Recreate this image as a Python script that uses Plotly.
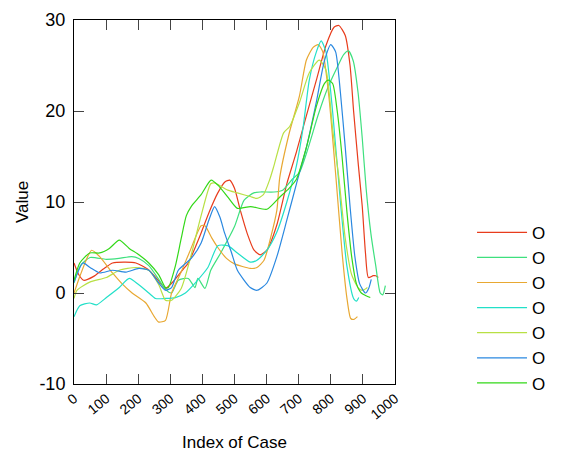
import plotly.graph_objects as go

names = ["O", "O", "O", "O", "O", "O", "O"]
colors = ["#e83c1c", "#3ee07e", "#e8a832", "#22e0c8", "#b8e044", "#2a88e0", "#32d818"]

red_x = [0,15,30,60,90,120,160,193,230,260,285,310,340,356,396,420,448,470,485,500,518,540,561,580,601,632,663,693,724,755,785,810,825,845,860,871,886,898,908,917,932,940,948]
red_y = [3.3,2.0,1.4,1.8,2.6,3.3,3.4,3.3,2.6,1.5,0.5,1.3,2.6,3.3,6.6,8.8,11,12.2,12.4,11.5,9.1,6.5,4.7,4.2,4.7,7.5,12.0,15.5,19.5,23.4,27.2,29.2,29.4,28.3,25,20,14,9.5,4.4,1.7,1.9,1.9,1.7]

spring_x = [0,20,50,100,140,180,202,233,264,285,304,325,356,377,386,408,426,457,500,530,560,580,623,650,680,703,730,760,790,820,840,855,870,885,898,910,925,940,954,962,970]
spring_y = [1.1,3.0,3.9,3.7,3.8,4.0,3.8,3.0,1.5,0.4,0.0,1.4,1.6,0.6,1.6,0.5,2.5,4.4,7.3,10.2,11.0,11.1,11.1,11.3,12.5,13.3,16,19.5,22.5,24.8,26.2,26.6,25.5,22,17,11.5,6.5,3,0,-0.2,0.8]

orange_x = [0,20,40,55,80,120,150,181,224,250,264,285,304,330,360,396,408,430,448,475,500,549,570,592,612,632,641,670,702,724,745,761,775,794,816,835,850,862,872,883]
orange_y = [0,2.0,3.8,4.7,4.0,2.2,1.0,0,-1.1,-2.6,-3.2,-3.0,0,2.0,4.5,7.4,7.4,6.0,5.0,3.8,3.2,2.7,2.8,3.6,6.0,9.1,12.7,17.5,21.6,25.6,27.0,27.3,26.5,21.6,12.7,4.5,-0.5,-2.8,-2.9,-2.6]

cyan_x = [0,18,49,70,101,141,172,202,233,254,285,316,347,380,417,448,479,509,549,570,601,632,663,693,713,733,755,770,785,806,830,850,871,880,887]
cyan_y = [-2.6,-1.4,-1.1,-1.3,-0.5,0.6,1.6,0.9,0.0,-0.6,-0.6,-0.5,0.0,1.2,2.8,5.2,5.2,4.4,3.4,3.6,4.7,6.7,10,14,18,23.4,26.5,27.7,26.5,19.8,10,3,-0.6,-0.9,-0.5]

yg_x = [0,9,49,101,141,193,233,264,285,304,334,360,396,426,438,479,509,549,570,590,610,623,653,672,702,733,764,785,806,825,845,865,887,900,914]
yg_y = [-0.6,0.3,1.2,1.7,2.5,2.8,2.5,0.9,-0.8,-0.8,0.5,3.5,8.5,12.0,12.1,11.3,11.0,10.6,10.4,10.8,12.5,14.0,17.6,18.3,20.9,24.2,25.6,24.5,17.9,12.7,6,2,0.5,0.3,0.6]

blue_x = [0,28,50,80,120,162,202,233,264,285,304,325,365,396,420,438,455,469,490,509,549,570,601,632,663,693,724,755,780,800,815,830,845,860,875,890,908,918,926]
blue_y = [1.2,3.3,2.8,2.2,2.5,2.3,2.7,2.5,1.1,0.3,0.6,2.5,3.8,5.5,8.0,9.5,8.3,6.6,4.5,2.5,0.6,0.3,1.1,4.0,8.0,12,16,21,25.5,27.3,26.5,22,16,9.5,4,1,0,0.5,1.5]

green_x = [0,18,49,80,110,141,172,202,233,264,285,294,316,334,350,365,396,427,450,480,509,550,601,640,670,693,724,755,780,792,806,820,835,850,865,880,895,910,923]
green_y = [1.4,3.3,4.4,4.4,4.9,5.8,4.9,4.2,3.3,2.0,0.6,0.6,3.0,6.0,8.5,9.5,10.8,12.4,11.8,10.5,9.3,9.5,9.2,10.5,11.5,12.5,16,20.5,23,23.4,23,20,15,9,4,1,0,-0.3,-0.5]

xs = [red_x, spring_x, orange_x, cyan_x, yg_x, blue_x, green_x]
ys = [red_y, spring_y, orange_y, cyan_y, yg_y, blue_y, green_y]

x_ticks = [0, 100, 200, 300, 400, 500, 600, 700, 800, 900, 1000]
y_ticks = [-10, 0, 10, 20, 30]

fig = go.Figure()
for n, c, x, y in zip(names, colors, xs, ys):
    fig.add_trace(go.Scatter(x=x, y=y, name=n, mode="lines",
                             line=dict(color=c, width=1.2, shape="spline", smoothing=0.6)))

font = "Liberation Sans, Arial, sans-serif"
axis_common = dict(showgrid=False, zeroline=False, showline=True, linecolor="black",
                   linewidth=1, mirror="ticks", ticks="inside", ticklen=10,
                   tickcolor="#444", tickwidth=1, automargin=False)
fig.update_layout(
    width=563, height=455,
    margin=dict(l=74, r=163, t=20, b=71),
    paper_bgcolor="white", plot_bgcolor="white",
    font=dict(family=font, color="black"),
    showlegend=True,
    legend=dict(x=1.24, y=0.465, xanchor="left", yanchor="top",
                font=dict(size=17, family=font), tracegroupgap=0,
                itemwidth=50, bgcolor="rgba(0,0,0,0)"),
    xaxis=dict(range=[0, 1000], tickvals=x_ticks, ticktext=[str(v) for v in x_ticks],
               tickangle=-40, tickfont=dict(size=14),
               title=dict(text="Index of Case", font=dict(size=17), standoff=14),
               **axis_common),
    yaxis=dict(range=[-10, 30], tickvals=y_ticks, ticktext=[str(v) for v in y_ticks],
               tickfont=dict(size=18), ticklabelstandoff=4,
               title=dict(text="Value", font=dict(size=17), standoff=6),
               **axis_common),
)
fig.write_html("out.html")
